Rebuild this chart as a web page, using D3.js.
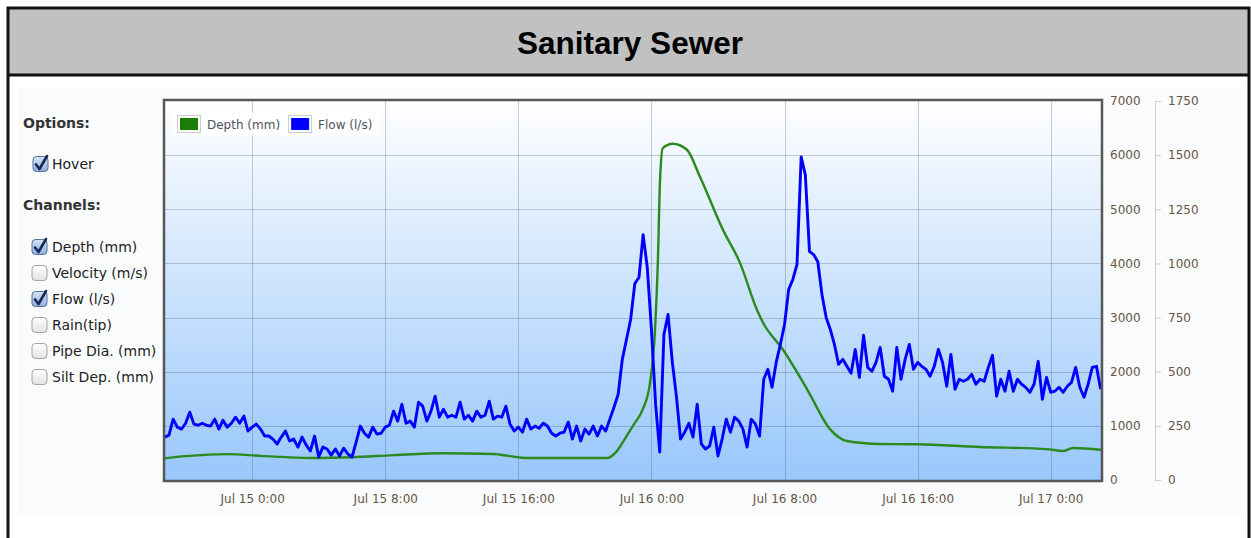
<!DOCTYPE html>
<html>
<head>
<meta charset="utf-8">
<script src="https://cdn.jsdelivr.net/npm/d3@7"></script>
<style>
  body { margin: 0; background: #fff; }
  svg text { font-family: "DejaVu Sans", sans-serif; }
</style>
</head>
<body>
<svg id="chart" width="1251" height="538"></svg>
<script>
// ---- data ----
const title = "Sanitary Sewer";

const depthTimes = [
  "2013-07-14 18:42", "2013-07-14 20:00", "2013-07-14 22:30", "2013-07-15 00:30", "2013-07-15 03:30",
  "2013-07-15 06:00", "2013-07-15 08:30", "2013-07-15 11:30", "2013-07-15 14:30", "2013-07-15 15:30",
  "2013-07-15 16:30", "2013-07-15 21:20", "2013-07-15 21:53", "2013-07-15 22:22", "2013-07-15 22:57",
  "2013-07-15 23:29", "2013-07-15 23:55", "2013-07-16 00:13", "2013-07-16 00:23", "2013-07-16 00:31",
  "2013-07-16 00:41", "2013-07-16 01:17", "2013-07-16 02:08", "2013-07-16 02:55", "2013-07-16 04:18",
  "2013-07-16 05:19", "2013-07-16 06:20", "2013-07-16 06:42", "2013-07-16 07:54", "2013-07-16 09:21",
  "2013-07-16 10:44", "2013-07-16 11:45", "2013-07-16 13:44", "2013-07-16 15:58", "2013-07-16 19:44",
  "2013-07-16 23:46", "2013-07-17 00:44", "2013-07-17 01:20", "2013-07-17 03:05"
];
const depthValues = [
  400, 440, 478, 445, 405,
  420, 460, 495, 480, 440,
  405, 405, 520, 740, 1030,
  1310, 1800, 2780, 4000, 5540,
  6130, 6210, 6100, 5600, 4620,
  4015, 3150, 2910, 2410, 1680,
  940, 720, 665, 660, 610,
  570, 535, 590, 555
];

// flow logged every 15 minutes from flowStart
const flowStart = "2013-07-14 18:45";
const flowStepMinutes = 15;
const flowValues = [
  198, 207, 281, 244, 235, 262, 313, 258, 253, 262,
  253, 249, 281, 235, 276, 244, 262, 290, 262, 295,
  226, 244, 258, 235, 203, 203, 189, 166, 198, 226,
  180, 189, 152, 198, 161, 134, 203, 106, 152, 143,
  115, 143, 111, 147, 120, 106, 175, 249, 216, 198,
  244, 212, 216, 244, 253, 318, 272, 350, 262, 272,
  244, 359, 341, 272, 318, 387, 290, 327, 290, 299,
  290, 359, 281, 299, 272, 318, 290, 299, 364, 281,
  295, 290, 341, 258, 226, 244, 221, 281, 235, 249,
  239, 262, 249, 216, 203, 216, 221, 267, 189, 249,
  180, 235, 212, 249, 203, 249, 226, 281, 336, 396,
  557, 649, 741, 907, 935, 1133, 981, 695, 350, 129,
  672, 764, 548, 387, 189, 221, 262, 198, 350, 166,
  143, 157, 244, 111, 189, 281, 221, 290, 272, 235,
  152, 281, 258, 203, 465, 511, 428, 543, 626, 718,
  880, 926, 995, 1492, 1409, 1055, 1041, 1008, 857, 751,
  695, 626, 534, 557, 525, 493, 603, 474, 668, 520,
  502, 543, 612, 479, 465, 410, 612, 465, 557, 626,
  511, 543, 525, 511, 479, 525, 603, 543, 433, 580,
  419, 465, 456, 465, 488, 442, 465, 456, 520, 576,
  387, 465, 410, 502, 410, 465, 442, 428, 405, 442,
  548, 373, 474, 405, 410, 428, 405, 433, 451, 520,
  428, 382, 442, 520, 525, 419
];

const timeDomain = ["2013-07-14 18:42", "2013-07-17 03:05"];
const timeTicks = ["2013-07-15 00:00", "2013-07-15 08:00", "2013-07-15 16:00", "2013-07-16 00:00",
                   "2013-07-16 08:00", "2013-07-16 16:00", "2013-07-17 00:00"];
const depthTicks = [0, 1000, 2000, 3000, 4000, 5000, 6000, 7000];
const flowTicks = [0, 250, 500, 750, 1000, 1250, 1500, 1750];

const legendLabels = ["Depth (mm)", "Flow (l/s)"];
const legendColors = ["#1a7d05", "#0000ff"];
const optionLabels = ["Hover"];
const optionChecked = [true];
const channelLabels = ["Depth (mm)", "Velocity (m/s)", "Flow (l/s)", "Rain(tip)", "Pipe Dia. (mm)", "Silt Dep. (mm)"];
const channelChecked = [true, false, true, false, false, false];

// ---- layout ----
const W = 1251, H = 538;
const plot = { left: 164, right: 1102, top: 100, bottom: 481 };

const parse = d3.timeParse("%Y-%m-%d %H:%M");
const svg = d3.select("#chart");
const defs = svg.append("defs");

const bgGrad = defs.append("linearGradient").attr("id", "plotBg")
  .attr("x1", 0).attr("y1", 0).attr("x2", 0).attr("y2", 1);
bgGrad.append("stop").attr("offset", "0%").attr("stop-color", "#ffffff");
bgGrad.append("stop").attr("offset", "100%").attr("stop-color", "#98c7fb");

const cbOff = defs.append("linearGradient").attr("id", "cbOff")
  .attr("x1", 0).attr("y1", 0).attr("x2", 0).attr("y2", 1);
cbOff.append("stop").attr("offset", "0%").attr("stop-color", "#ffffff");
cbOff.append("stop").attr("offset", "100%").attr("stop-color", "#e2e2e2");
const cbOn = defs.append("linearGradient").attr("id", "cbOn")
  .attr("x1", 0).attr("y1", 0).attr("x2", 0).attr("y2", 1);
cbOn.append("stop").attr("offset", "0%").attr("stop-color", "#d6e3f5");
cbOn.append("stop").attr("offset", "100%").attr("stop-color", "#8fb0dc");

// outer frame + title band
svg.append("rect").attr("x", 0).attr("y", 0).attr("width", W).attr("height", H).attr("fill", "#fff");
svg.append("rect").attr("x", 18).attr("y", 88).attr("width", 1224).attr("height", 428).attr("fill", "#fafbfc");
svg.append("rect").attr("x", 8).attr("y", 8).attr("width", 1241).attr("height", 67).attr("fill", "#c0c1c0");
svg.append("line").attr("x1", 8).attr("x2", 1249).attr("y1", 75).attr("y2", 75)
  .attr("stroke", "#111").attr("stroke-width", 3);
svg.append("path").attr("d", `M8,${H + 5} V8 H1249 V${H + 5}`)
  .attr("fill", "none").attr("stroke", "#111").attr("stroke-width", 3);
svg.append("text").attr("x", 630).attr("y", 54).attr("text-anchor", "middle")
  .style("font-family", "'Liberation Sans', Arial, sans-serif")
  .attr("font-size", 31.5).attr("font-weight", "bold").attr("fill", "#000").text(title);

// scales
const x = d3.scaleTime().domain(timeDomain.map(parse)).range([plot.left, plot.right]);
const yDepth = d3.scaleLinear().domain([0, 7000]).range([plot.bottom - 1, plot.top + 1]);
const yFlow = d3.scaleLinear().domain([0, 1750]).range([plot.bottom - 1, plot.top + 1]);

// plot background and grid
svg.append("rect").attr("x", plot.left).attr("y", plot.top)
  .attr("width", plot.right - plot.left).attr("height", plot.bottom - plot.top)
  .attr("fill", "url(#plotBg)");

const grid = svg.append("g").attr("stroke", "rgba(70,80,90,0.28)").attr("stroke-width", 1);
grid.selectAll("line.h").data(depthTicks.slice(1, -1)).enter().append("line")
  .attr("x1", plot.left).attr("x2", plot.right)
  .attr("y1", d => Math.round(yDepth(d)) + 0.5).attr("y2", d => Math.round(yDepth(d)) + 0.5);
grid.selectAll("line.v").data(timeTicks.map(parse)).enter().append("line")
  .attr("y1", plot.top).attr("y2", plot.bottom)
  .attr("x1", d => Math.round(x(d)) + 0.5).attr("x2", d => Math.round(x(d)) + 0.5);

// series
const depthData = depthTimes.map((t, i) => ({ t: parse(t), v: depthValues[i] }));
const flow0 = parse(flowStart);
const flowData = flowValues.map((v, i) => ({ t: d3.timeMinute.offset(flow0, i * flowStepMinutes), v }));

svg.append("defs").append("clipPath").attr("id", "clip").append("rect")
  .attr("x", plot.left).attr("y", plot.top).attr("width", plot.right - plot.left).attr("height", plot.bottom - plot.top);

const series = svg.append("g").attr("clip-path", "url(#clip)");
series.append("path").datum(depthData)
  .attr("fill", "none").attr("stroke", "#2a8a1e").attr("stroke-width", 2.4)
  .attr("stroke-linejoin", "round")
  .attr("d", d3.line().x(d => x(d.t)).y(d => yDepth(d.v)).curve(d3.curveMonotoneX));
series.append("path").datum(flowData)
  .attr("fill", "none").attr("stroke", "#0000ff").attr("stroke-width", 2.9)
  .attr("stroke-linejoin", "round")
  .attr("d", d3.line().x(d => x(d.t)).y(d => yFlow(d.v)));

// plot border
svg.append("rect").attr("x", plot.left).attr("y", plot.top)
  .attr("width", plot.right - plot.left).attr("height", plot.bottom - plot.top)
  .attr("fill", "none").attr("stroke", "#575757").attr("stroke-width", 2.5);

// axes
const labelColor = "#665544";
const fmt = d3.timeFormat("%b %-d %-H:%M");

const xAxis = svg.append("g").attr("transform", `translate(0,${plot.bottom})`)
  .call(d3.axisBottom(x).tickValues(timeTicks.map(parse)).tickFormat(fmt).tickSize(0).tickPadding(13));
xAxis.select(".domain").remove();

const depthAxis = svg.append("g").attr("transform", `translate(${plot.right},0)`)
  .call(d3.axisRight(yDepth).tickValues(depthTicks).tickFormat(d3.format("d")).tickSize(0).tickPadding(8));
depthAxis.select(".domain").remove();

const flowAxis = svg.append("g").attr("transform", `translate(1155,0)`)
  .call(d3.axisRight(yFlow).tickValues(flowTicks).tickFormat(d3.format("d"))
    .tickSize(6).tickSizeOuter(0).tickPadding(7));
flowAxis.select(".domain").attr("stroke", "#cfcfcf");
flowAxis.selectAll(".tick line").attr("stroke", "#cfcfcf");

svg.selectAll(".tick text").attr("fill", labelColor).attr("font-size", 12)
  .style("font-family", "'DejaVu Sans', sans-serif");

// legend
const legend = svg.append("g");
legend.append("rect").attr("x", 173).attr("y", 112).attr("width", 206).attr("height", 24)
  .attr("fill", "#ffffff").attr("opacity", 0.8);
let lx = 177;
legendLabels.forEach((lab, i) => {
  legend.append("rect").attr("x", lx + 0.5).attr("y", 115.5).attr("width", 23).attr("height", 17)
    .attr("fill", "#fff").attr("stroke", "#cccccc");
  legend.append("rect").attr("x", lx + 3).attr("y", 118).attr("width", 18).attr("height", 12)
    .attr("fill", legendColors[i]);
  const t = legend.append("text").attr("x", lx + 30).attr("y", 128.5)
    .attr("font-size", 12).attr("fill", "#50525e").text(lab);
  lx += 30 + t.node().getComputedTextLength() + 8;
});

// option / channel panel
const panel = svg.append("g");
function checkbox(g, cx, cy, checked) {
  g.append("rect").attr("x", cx).attr("y", cy - 7.5).attr("width", 15).attr("height", 15).attr("rx", 3.5)
    .attr("fill", checked ? "url(#cbOn)" : "url(#cbOff)")
    .attr("stroke", checked ? "#56709c" : "#a3a3a3").attr("stroke-width", 1);
  if (checked) {
    g.append("path").attr("d", `M${cx + 3},${cy + 0.5} L${cx + 6.5},${cy + 5} L${cx + 14},${cy - 8}`)
      .attr("fill", "none").attr("stroke", "#16295a").attr("stroke-width", 2.6)
      .attr("stroke-linecap", "round").attr("stroke-linejoin", "round");
  }
}
panel.append("text").attr("x", 23).attr("y", 128).attr("font-size", 14).attr("font-weight", "bold")
  .attr("fill", "#333").text("Options:");
optionLabels.forEach((lab, i) => {
  const cy = 164 + i * 26;
  checkbox(panel, 33, cy, optionChecked[i]);
  panel.append("text").attr("x", 52).attr("y", cy + 5).attr("font-size", 14).attr("fill", "#222").text(lab);
});
panel.append("text").attr("x", 23).attr("y", 210).attr("font-size", 14).attr("font-weight", "bold")
  .attr("fill", "#333").text("Channels:");
channelLabels.forEach((lab, i) => {
  const cy = 247 + i * 26;
  checkbox(panel, 32, cy, channelChecked[i]);
  panel.append("text").attr("x", 52).attr("y", cy + 5).attr("font-size", 14).attr("fill", "#222").text(lab);
});
</script>
</body>
</html>
